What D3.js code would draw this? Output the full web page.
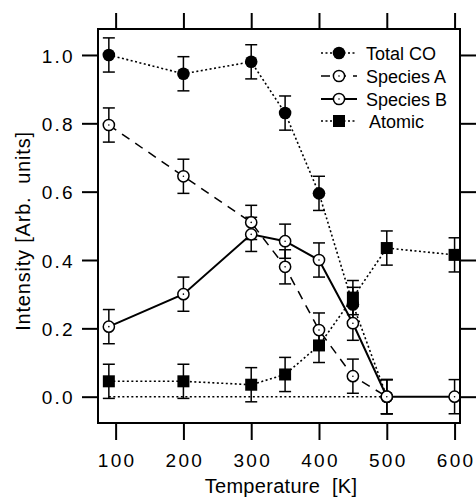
<!DOCTYPE html>
<html>
<head>
<meta charset="utf-8">
<script src="https://cdn.jsdelivr.net/npm/d3@7/dist/d3.min.js"></script>
<style>
  html, body { margin: 0; padding: 0; background: #fff; }
  svg { display: block; font-family: "Liberation Sans", Arial, Helvetica, sans-serif; }
</style>
</head>
<body>
<svg id="chart" width="476" height="499"></svg>
<script>
// ---- data ----
const xTicks = [100, 200, 300, 400, 500, 600];
const yTicks = [0.0, 0.2, 0.4, 0.6, 0.8, 1.0];

const totalCOTemps = [90, 200, 300, 350, 400, 450, 500];
const totalCOValues = [1.0, 0.945, 0.98, 0.83, 0.595, 0.27, 0.0];

const speciesATemps = [90, 200, 300, 350, 400, 450, 500];
const speciesAValues = [0.795, 0.645, 0.51, 0.38, 0.195, 0.06, 0.0];

const speciesBTemps = [90, 200, 300, 350, 400, 450, 500, 600];
const speciesBValues = [0.205, 0.30, 0.475, 0.455, 0.40, 0.215, 0.0, 0.0];

const atomicTemps = [90, 200, 300, 350, 400, 450, 500, 600];
const atomicValues = [0.045, 0.045, 0.035, 0.065, 0.15, 0.29, 0.435, 0.415];

const baselineTemps = [90, 500];
const baselineValues = [0, 0];

const errorBar = 0.05;

const seriesNames = ["Total CO", "Species A", "Species B", "Atomic"];

// ---- layout ----
const svg = d3.select("#chart");
const L = 98, R = 460, T = 29, B = 423;
const x = d3.scaleLinear().domain([74, 608]).range([L, R]);
const y = d3.scaleLinear().domain([-0.077, 1.076]).range([B, T]);

const styles = {
  "Total CO": { dash: "2,2.5", width: 1.6, marker: "filledCircle" },
  "Species A": { dash: "9,7", width: 1.5, marker: "dotCircle" },
  "Species B": { dash: null, width: 2, marker: "dotCircle" },
  "Atomic": { dash: "2,2.5", width: 1.6, marker: "square" }
};

const series = [
  { name: "Total CO", t: totalCOTemps, v: totalCOValues },
  { name: "Species A", t: speciesATemps, v: speciesAValues },
  { name: "Species B", t: speciesBTemps, v: speciesBValues },
  { name: "Atomic", t: atomicTemps, v: atomicValues }
].map(s => ({ ...s, pts: s.t.map((t, i) => ({ t, v: s.v[i] })) }));

const line = d3.line().x(d => x(d.t)).y(d => y(d.v));

// baseline
svg.append("path")
  .datum(baselineTemps.map((t, i) => ({ t, v: baselineValues[i] })))
  .attr("d", line).attr("fill", "none").attr("stroke", "#000")
  .attr("stroke-width", 1.6).attr("stroke-dasharray", "2,2.5");

// lines
series.forEach(s => {
  const st = styles[s.name];
  svg.append("path").datum(s.pts).attr("d", line)
    .attr("fill", "none").attr("stroke", "#000")
    .attr("stroke-width", st.width)
    .attr("stroke-dasharray", st.dash);
});

function drawMarker(g, type, cx, cy) {
  if (type === "filledCircle") {
    g.append("circle").attr("cx", cx).attr("cy", cy).attr("r", 6.3).attr("fill", "#000");
  } else if (type === "dotCircle") {
    g.append("circle").attr("cx", cx).attr("cy", cy).attr("r", 5.6)
      .attr("fill", "#fff").attr("stroke", "#000").attr("stroke-width", 1.5);
    g.append("circle").attr("cx", cx).attr("cy", cy).attr("r", 0.8).attr("fill", "#000");
  } else if (type === "square") {
    g.append("rect").attr("x", cx - 6).attr("y", cy - 6).attr("width", 12).attr("height", 12).attr("fill", "#000");
  }
}

// error bars
series.forEach(s => {
  const g = svg.append("g").attr("stroke", "#000").attr("stroke-width", 1.5);
  s.pts.forEach(d => {
    const cx = x(d.t), y1 = y(d.v + errorBar), y0 = y(d.v - errorBar);
    g.append("line").attr("x1", cx).attr("x2", cx).attr("y1", y1).attr("y2", y0);
    g.append("line").attr("x1", cx - 6).attr("x2", cx + 6).attr("y1", y1).attr("y2", y1);
    g.append("line").attr("x1", cx - 6).attr("x2", cx + 6).attr("y1", y0).attr("y2", y0);
  });
});

// markers
series.forEach(s => {
  const g = svg.append("g");
  s.pts.forEach(d => drawMarker(g, styles[s.name].marker, x(d.t), y(d.v)));
});

// frame
svg.append("rect").attr("x", L).attr("y", T).attr("width", R - L).attr("height", B - T)
  .attr("fill", "none").attr("stroke", "#000").attr("stroke-width", 2);

// axes
const tickFont = 19;
const gB = svg.append("g").attr("transform", `translate(0,${B})`)
  .call(d3.axisBottom(x).tickValues(xTicks).tickSize(17).tickSizeOuter(0).tickPadding(12));
const gT = svg.append("g").attr("transform", `translate(0,${T})`)
  .call(d3.axisTop(x).tickValues(xTicks).tickSize(16).tickSizeOuter(0).tickFormat(""));
const gL = svg.append("g").attr("transform", `translate(${L},0)`)
  .call(d3.axisLeft(y).tickValues(yTicks).tickSize(16).tickSizeOuter(0).tickPadding(7).tickFormat(d3.format(".1f")));
const gR = svg.append("g").attr("transform", `translate(${R},0)`)
  .call(d3.axisRight(y).tickValues(yTicks).tickSize(16).tickSizeOuter(0).tickFormat(""));

[gB, gT, gL, gR].forEach(g => {
  g.select(".domain").remove();
  g.selectAll(".tick line").attr("stroke", "#000").attr("stroke-width", 2);
  g.selectAll("text").attr("font-family", "Liberation Sans, Arial, sans-serif")
    .attr("font-size", tickFont).attr("fill", "#000").style("letter-spacing", "2.3px");
});
gB.selectAll(".tick text").attr("y", 44).attr("dy", null).attr("dx", 1);
gL.selectAll(".tick text").attr("dy", "0.38em");

// axis titles
svg.append("text").attr("x", (L + R) / 2 + 2).attr("y", 493)
  .attr("text-anchor", "middle").attr("font-size", 20).style("white-space", "pre")
  .style("letter-spacing", "0.3px")
  .text("Temperature  [K]");
svg.append("text").attr("transform", `translate(30,${(T + B) / 2 + 5}) rotate(-90)`)
  .attr("text-anchor", "middle").attr("font-size", 20).style("white-space", "pre")
  .style("letter-spacing", "0.8px")
  .text("Intensity [Arb.  units]");

// legend
const legRowY = [53, 76, 99, 121];
const legend = svg.append("g");
series.forEach((s, i) => {
  const st = styles[s.name];
  const yy = legRowY[i];
  legend.append("line").attr("x1", 321).attr("x2", 357).attr("y1", yy).attr("y2", yy)
    .attr("stroke", "#000").attr("stroke-width", st.width).attr("stroke-dasharray", st.dash);
  drawMarker(legend, st.marker, 339, yy);
  legend.append("text").attr("x", s.name === "Atomic" ? 369 : 366).attr("y", yy + 7)
    .attr("font-size", 18).text(seriesNames[i]);
});
</script>
</body>
</html>
